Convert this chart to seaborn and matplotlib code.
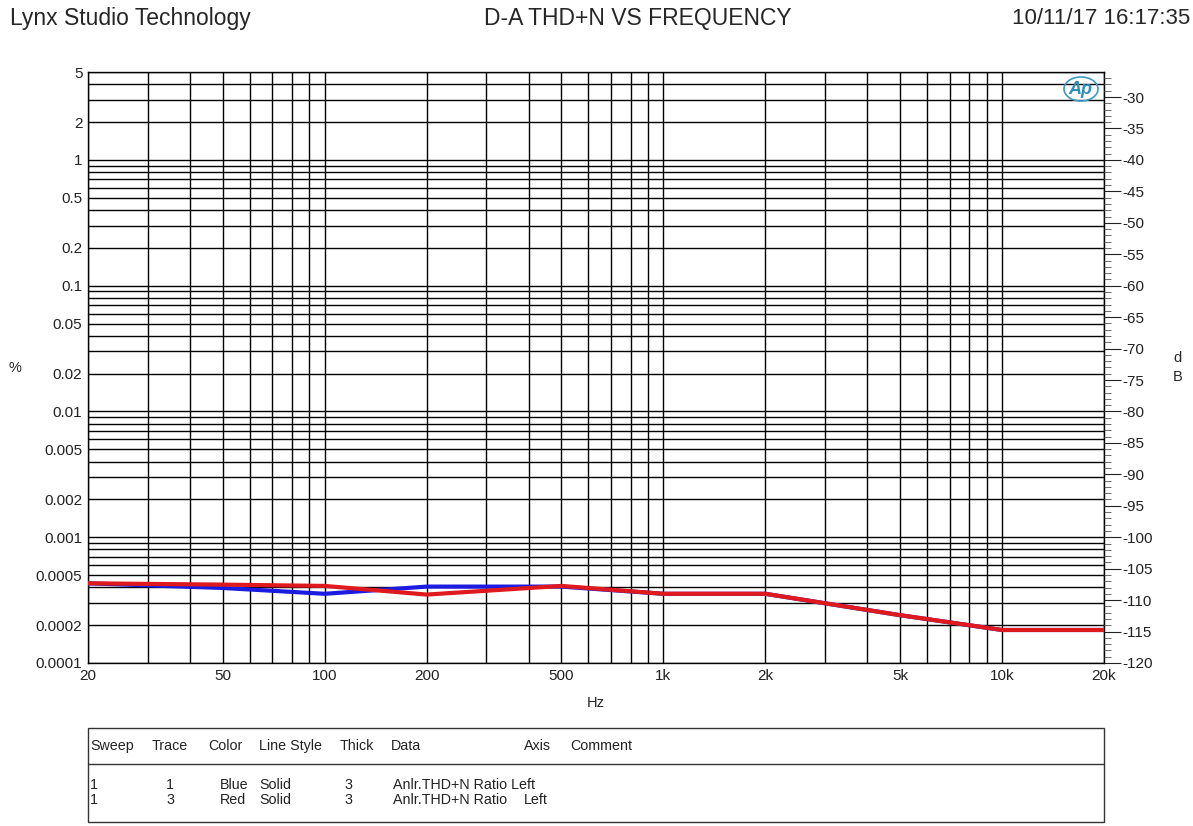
import numpy as np
import pandas as pd
import matplotlib.pyplot as plt
import seaborn as sns
from matplotlib.patches import Ellipse, Rectangle
from matplotlib.ticker import FixedLocator, NullFormatter, NullLocator

# values
freq = [20, 50, 100, 200, 500, 1000, 2000, 5000, 10000, 20000]
blue_thd = [0.00043, 0.000395, 0.000355, 0.000405, 0.000405, 0.000355, 0.000355, 0.00024, 0.000183, 0.000183]
red_thd = [0.00043, 0.00042, 0.00041, 0.00035, 0.00041, 0.000355, 0.000355, 0.00024, 0.000183, 0.000183]

x_ticks = [20, 50, 100, 200, 500, 1000, 2000, 5000, 10000, 20000]
x_labels = ['20', '50', '100', '200', '500', '1k', '2k', '5k', '10k', '20k']
y_ticks = [5, 2, 1, 0.5, 0.2, 0.1, 0.05, 0.02, 0.01, 0.005, 0.002, 0.001, 0.0005, 0.0002, 0.0001]
y_labels = ['5', '2', '1', '0.5', '0.2', '0.1', '0.05', '0.02', '0.01', '0.005', '0.002', '0.001',
            '0.0005', '0.0002', '0.0001']

table_header = ['Sweep', 'Trace', 'Color', 'Line Style', 'Thick', 'Data', 'Axis', 'Comment']
table_rows = [['1', '1', 'Blue', 'Solid', '3', 'Anlr.THD+N Ratio Left', '', ''],
              ['1', '3', 'Red', 'Solid', '3', 'Anlr.THD+N Ratio', 'Left', '']]

sns.set_style('white')
plt.rcParams['font.family'] = ['Liberation Sans', 'DejaVu Sans']

df = pd.DataFrame({
    'Hz': freq * 2,
    'pct': blue_thd + red_thd,
    'trace': ['Blue'] * len(freq) + ['Red'] * len(freq),
})

fig = plt.figure(figsize=(11.93, 8.26), dpi=100)
ax = fig.add_axes([88 / 1193, 1 - 663 / 826, (1104 - 88) / 1193, (663 - 72) / 826])

sns.lineplot(data=df, x='Hz', y='pct', hue='trace', palette={'Blue': '#1c1ce0', 'Red': '#de1a1e'},
             linewidth=3.0, legend=False, ax=ax, zorder=5)

ax.set_xscale('log')
ax.set_yscale('log')
ax.set_xlim(20, 20000)
ax.set_ylim(0.0001, 5)

# grid lines at every 1..9 step of each decade
xgrid = [m * 10 ** e for e in range(1, 5) for m in range(1, 10) if 20 <= m * 10 ** e <= 20000]
ygrid = [m * 10.0 ** e for e in range(-4, 1) for m in range(1, 10) if 0.0001 <= m * 10.0 ** e <= 5]
for xv in xgrid:
    ax.axvline(xv, color='black', lw=1.0, zorder=1)
for yv in ygrid:
    ax.axhline(yv, color='black', lw=1.0, zorder=1)

ax.xaxis.set_major_locator(FixedLocator(x_ticks))
ax.set_xticklabels(x_labels)
ax.xaxis.set_minor_locator(NullLocator())
ax.xaxis.set_minor_formatter(NullFormatter())
ax.yaxis.set_major_locator(FixedLocator(y_ticks))
ax.set_yticklabels(y_labels)
ax.yaxis.set_minor_locator(NullLocator())
ax.yaxis.set_minor_formatter(NullFormatter())
ax.tick_params(axis='both', length=0, labelsize=11, pad=4, colors='#222222')
ax.set_xlabel('Hz', fontsize=10.5, labelpad=10)
ax.set_ylabel('')
for sp in ax.spines.values():
    sp.set_color('black')
    sp.set_linewidth(1.0)

# right dB axis
ax2 = ax.twinx()
ax2.set_ylim(-120, 20 * np.log10(5 / 100))
ax2.yaxis.set_major_locator(FixedLocator(list(range(-120, -29, 5))))
ax2.yaxis.set_minor_locator(FixedLocator(list(range(-120, -26, 1))))
ax2.set_yticklabels([str(v) for v in range(-120, -29, 5)])
ax2.tick_params(axis='y', which='major', length=12, width=0.8, labelsize=11, pad=1, colors='#222222')
ax2.tick_params(axis='y', which='minor', length=5, width=0.6, color='#555555')
for sp in ax2.spines.values():
    sp.set_visible(False)

fig.text(15 / 1193, 1 - 368 / 826, '%', fontsize=10.5, ha='center', va='center')
fig.text(1178 / 1193, 1 - 358 / 826, 'd', fontsize=10.5, ha='center', va='center')
fig.text(1178 / 1193, 1 - 377 / 826, 'B', fontsize=10.5, ha='center', va='center')

# header
fig.text(10 / 1193, 1 - 18 / 826, 'Lynx Studio Technology', fontsize=16.5, ha='left', va='center')
fig.text(638 / 1193, 1 - 18 / 826, 'D-A THD+N VS FREQUENCY', fontsize=16.5, ha='center', va='center')
fig.text(1190 / 1193, 1 - 18 / 826, '10/11/17 16:17:35', fontsize=16,
         family=['Liberation Sans Narrow', 'Liberation Sans'], ha='right', va='center')

# AP logo
ax.add_patch(Ellipse((1081 / 1193, 1 - 89 / 826), 34 / 1193, 24 / 826, transform=fig.transFigure,
                     fill=False, ec='#3a9cc4', lw=1.2, zorder=6))
fig.text(1080 / 1193, 1 - 89 / 826, 'Ap', fontsize=13, style='italic', fontweight='bold',
         color='#2c8fba', ha='center', va='center')

# trace table
fig.patches.append(Rectangle((88 / 1193, 1 - 822 / 826), (1104 - 88) / 1193, (822 - 728) / 826,
                             transform=fig.transFigure, fill=False, ec='#333333', lw=1.0))
fig.lines.append(plt.Line2D([88 / 1193, 1104 / 1193], [1 - 764 / 826, 1 - 764 / 826],
                            transform=fig.transFigure, color='#333333', lw=1.0))
head_x = [90, 152, 208, 259, 340, 391, 524, 570]
row_x = [90, 166, 220, 259, 344, 393, 524, 570]
for hx, h in zip(head_x, table_header):
    fig.text(hx / 1193, 1 - 746 / 826, h, fontsize=10.3, ha='left', va='center', color='#222222')
for r, ry in zip(table_rows, [785, 800]):
    for cx, c in zip(row_x, r):
        if c:
            fig.text(cx / 1193, 1 - ry / 826, c, fontsize=10.3, ha='left', va='center', color='#222222')

plt.savefig('out.png', dpi=100)
